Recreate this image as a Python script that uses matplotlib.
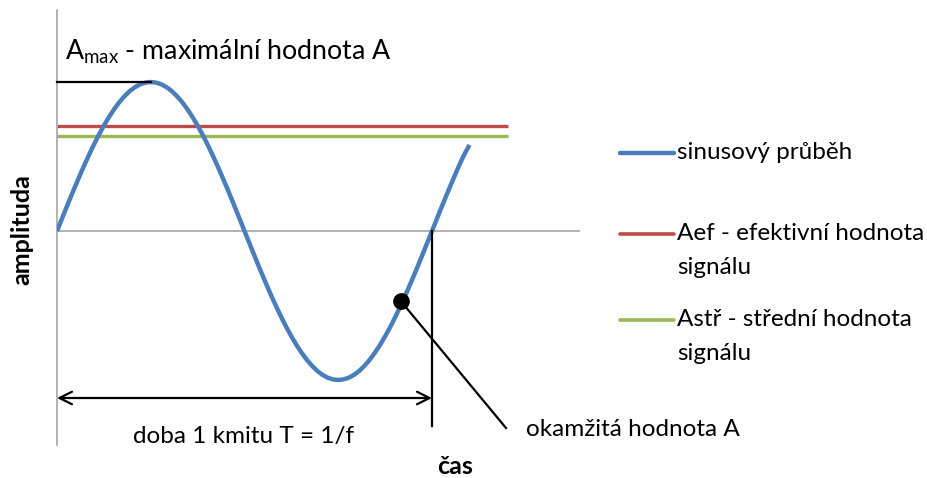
import matplotlib
matplotlib.use("Agg")
import matplotlib.pyplot as plt

plt.rcParams['font.family'] = ['Lato', 'DejaVu Sans']

# ---- data ----
phase_deg = [0, 5, 10, 15, 20, 25, 30, 35, 40, 45, 50, 55, 60, 65, 70, 75, 80, 85, 90,
             95, 100, 105, 110, 115, 120, 125, 130, 135, 140, 145, 150, 155, 160, 165,
             170, 175, 180, 185, 190, 195, 200, 205, 210, 215, 220, 225, 230, 235, 240,
             245, 250, 255, 260, 265, 270, 275, 280, 285, 290, 295, 300, 305, 310, 315,
             320, 325, 330, 335, 340, 345, 350, 355, 360, 365, 370, 375, 380, 385, 390, 396]
amplitude = [0.000, 0.087, 0.174, 0.259, 0.342, 0.423, 0.500, 0.574, 0.643, 0.707,
             0.766, 0.819, 0.866, 0.906, 0.940, 0.966, 0.985, 0.996, 1.000,
             0.996, 0.985, 0.966, 0.940, 0.906, 0.866, 0.819, 0.766, 0.707, 0.643,
             0.574, 0.500, 0.423, 0.342, 0.259, 0.174, 0.087,
             0.000, -0.087, -0.174, -0.259, -0.342, -0.423, -0.500, -0.574, -0.643,
             -0.707, -0.766, -0.819, -0.866, -0.906, -0.940, -0.966, -0.985, -0.996,
             -1.000, -0.996, -0.985, -0.966, -0.940, -0.906, -0.866, -0.819, -0.766,
             -0.707, -0.643, -0.574, -0.500, -0.423, -0.342, -0.259, -0.174, -0.087,
             0.000, 0.087, 0.174, 0.259, 0.342, 0.423, 0.500, 0.578]
a_max = 1.00
a_ef = 0.707
a_str = 0.637
level_end = 433
period = 360
instant_point = (330, -0.47)

legend_labels = ["sinusový průběh", ["Aef - efektivní hodnota", "signálu"],
                 ["Astř - střední hodnota", "signálu"]]

W, H = 928, 478
fig = plt.figure(figsize=(W / 100, H / 100), dpi=100)

x0, x1 = 57, 580
y_top, y_bot = 10, 445
ax = fig.add_axes([x0 / W, 1 - y_bot / H, (x1 - x0) / W, (y_bot - y_top) / H])
px_per_deg = 375 / 360
px_per_amp = 149
ax.set_xlim(0, (x1 - x0) / px_per_deg)
ax.set_ylim(-(y_bot - 231) / px_per_amp, (231 - y_top) / px_per_amp)
for s in ['top', 'right', 'bottom']:
    ax.spines[s].set_visible(False)
ax.spines['left'].set_color('#a6a6a6')
ax.spines['left'].set_linewidth(1.2)
ax.set_xticks([])
ax.set_yticks([])
ax.axhline(0, color='#a6a6a6', lw=1.2, zorder=1)

blue = '#4a7ebb'
red = '#be4b48'
green = '#98b954'

ax.plot([0, level_end], [a_ef, a_ef], color=red, lw=2.4, solid_capstyle='butt', zorder=2)
ax.plot([0, level_end], [a_str, a_str], color=green, lw=2.4, solid_capstyle='butt', zorder=2)
ax.plot(phase_deg, amplitude, color=blue, lw=3.2, zorder=3, solid_capstyle='butt',
        solid_joinstyle='round')

# Amax line
ax.plot([0, 90], [a_max, a_max], color='black', lw=1.6, zorder=4, clip_on=False)
# vertical line at end of period
ax.plot([period, period], [0, -(426 - 231) / px_per_amp], color='black', lw=1.6, zorder=4)
# double arrow
arr_y = -(398 - 231) / px_per_amp
ax.annotate('', xy=(0, arr_y), xytext=(period, arr_y),
            arrowprops=dict(arrowstyle='<->,head_length=0.9,head_width=0.45',
                            color='black', lw=1.6, shrinkA=0, shrinkB=0))
# instantaneous point
ax.plot([instant_point[0], (506 - x0) / px_per_deg],
        [instant_point[1], -(428 - 231) / px_per_amp], color='black', lw=1.6, zorder=4,
        clip_on=False)
ax.plot([instant_point[0]], [instant_point[1]], 'o', color='black', ms=11, zorder=5)

# texts
fig.text(65 / W, 1 - 52 / H, r'$\mathregular{A_{max}}$ - maximální hodnota A', fontsize=19.3,
         va='center', ha='left')
fig.text(244 / W, 1 - 437 / H, 'doba 1 kmitu T = 1/f', fontsize=17.5, va='center', ha='center')
fig.text(526 / W, 1 - 429 / H, 'okamžitá hodnota A', fontsize=17.5, va='center', ha='left')
fig.text(455 / W, 1 - 466 / H, 'čas', fontsize=18, fontweight='bold', va='center', ha='center')
fig.text(22 / W, 1 - 230 / H, 'amplituda', fontsize=18, fontweight='bold', va='center',
         ha='center', rotation=90)

# legend
leg_colors = [blue, red, green]
leg_y = [153, 234, 320]
for lab, col, yy in zip(legend_labels, leg_colors, leg_y):
    fig.add_artist(plt.Line2D([620 / W, 674 / W], [1 - yy / H, 1 - yy / H], color=col,
                              lw=3.2 if col == blue else 2.6, solid_capstyle='round'))
    lines = lab if isinstance(lab, list) else [lab]
    for i, t in enumerate(lines):
        fig.text(677 / W, 1 - (yy + i * 33) / H, t, fontsize=17.5, va='center', ha='left')

fig.savefig('out.png', dpi=100)
